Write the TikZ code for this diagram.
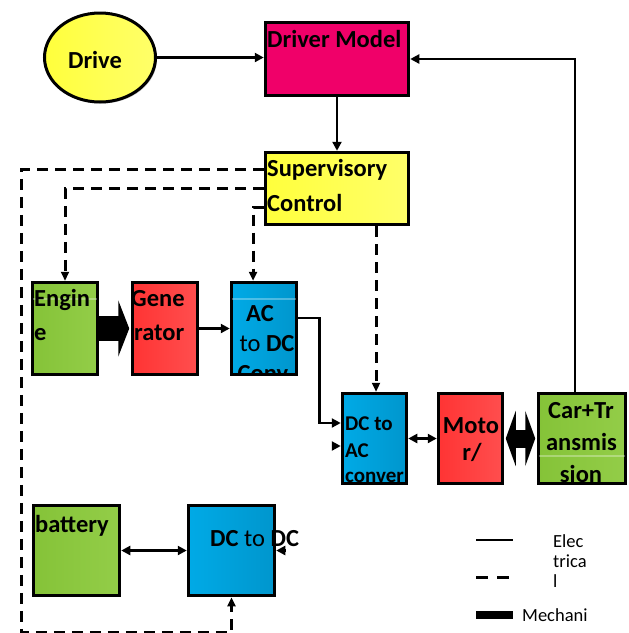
\documentclass[tikz,border=0pt]{standalone}
\usepackage{fontspec}
\setmainfont{Carlito}
\usetikzlibrary{arrows.meta,shapes.geometric,shadows,calc}
\definecolor{yelA}{RGB}{255,255,60}
\definecolor{yelB}{RGB}{255,255,105}
\definecolor{pinkA}{RGB}{240,0,105}
\definecolor{pinkB}{RGB}{222,0,92}
\definecolor{grnA}{RGB}{133,195,56}
\definecolor{grnB}{RGB}{147,205,72}
\definecolor{redA}{RGB}{255,52,52}
\definecolor{redB}{RGB}{255,78,78}
\definecolor{bluA}{RGB}{0,170,230}
\definecolor{bluB}{RGB}{0,150,205}
\begin{document}
\begin{tikzpicture}[x=1pt,y=-1pt,
  blk/.style={draw=black, line width=3.5pt, rectangle, inner sep=0pt,
    drop shadow={shadow xshift=1.5pt, shadow yshift=-1.5pt, fill=black, opacity=0.25}},
  sz/.style 2 args={minimum width=#1, minimum height=#2},
  yelbox/.style={left color=yelA, right color=yelB},
  pinkbox/.style={left color=pinkA, middle color=pinkB, right color=pinkA},
  grnbox/.style={left color=grnA, right color=grnB},
  redbox/.style={left color=redA, right color=redB},
  blubox/.style={left color=bluA, right color=bluB},
  bt/.style={font=\fontsize{24.5}{29}\selectfont\bfseries, inner sep=0pt, anchor=base west},
  btc/.style={bt, anchor=base},
  st/.style={font=\fontsize{21}{25}\selectfont\bfseries, inner sep=0pt, anchor=base west},
  lt/.style={font=\fontsize{18.5}{22}\selectfont, inner sep=0pt, anchor=base west},
  elec/.style={line width=2.6pt, -{Triangle[length=9pt,width=9pt]}},
  elecb/.style={line width=2.6pt, {Triangle[length=9pt,width=9pt]}-{Triangle[length=9pt,width=9pt]}},
  ctrl/.style={line width=3pt, dash pattern=on 11pt off 7pt, -{Triangle[length=9pt,width=8pt]}},
  mech/.style={line width=25pt, -{Triangle[length=11pt,width=56pt]}, shorten >=1.5pt},
  mechb/.style={line width=18pt, {Triangle[length=10pt,width=55pt]}-{Triangle[length=10pt,width=55pt]}, shorten >=1.5pt, shorten <=1.5pt},
  glint/.style={white, opacity=0.3, line width=1.2pt}
]
\useasboundingbox (0,0) rectangle (629,633);

% ---------- boxes ----------
\node[ellipse, draw=black, line width=3pt, minimum width=111pt, minimum height=89pt, yelbox,
  drop shadow={shadow xshift=1.5pt, shadow yshift=-1.5pt, fill=black, opacity=0.25}] (drive) at (100,57.5) {};
\node[blk, pinkbox, sz={143pt}{73pt}] (dm) at (337,59) {};
\node[blk, yelbox, sz={143pt}{72pt}] (sc) at (337,188.5) {};
\node[blk, grnbox, sz={65pt}{92pt}] (eng) at (65,328.5) {};
\node[blk, redbox, sz={65pt}{92pt}] (gen) at (165,328.5) {};
\node[blk, blubox, sz={65pt}{92pt}] (acdc) at (264,328.5) {};
\node[blk, blubox, sz={64pt}{90pt}] (dcac) at (374.5,438.5) {};
\node[blk, redbox, sz={64pt}{90pt}] (mot) at (470.5,438.5) {};
\node[blk, grnbox, sz={87pt}{90pt}] (car) at (582,438.5) {};
\node[blk, grnbox, sz={86pt}{90pt}] (bat) at (76.5,550.5) {};
\node[blk, blubox, sz={86pt}{90pt}] (dcdc) at (231.5,550.5) {};

% faint highlight lines
\draw[glint] ([xshift=1.8pt]eng.west |- 0,299) -- ([xshift=-1.8pt]eng.east |- 0,299);
\draw[glint] ([xshift=1.8pt]acdc.west |- 0,299) -- ([xshift=-1.8pt]acdc.east |- 0,299);
\draw[glint] ([xshift=1.8pt]car.west |- 0,456) -- ([xshift=-1.8pt]car.east |- 0,456);

% ---------- texts ----------
\node[btc] (tdrive) at (95,68) {Drive};
\node[bt] (tdm) at (267,47) {Driver Model};
\node[bt] (tsc1) at (267,176) {Supervisory};
\node[bt] (tsc2) at (267,211) {Control};
\node[bt] (teng1) at (34,306) {Engin};
\node[bt] (teng2) at (34,340) {e};
\begin{scope}
  \clip ([shift={(1.8pt,-1.8pt)}]gen.north west) rectangle ([shift={(-1.8pt,1.8pt)}]gen.south east);
  \node[bt] (tgen1) at (131,306) {Gene};
  \node[bt] (tgen2) at (134,340) {rator};
\end{scope}
\begin{scope}
  \clip ([shift={(1.8pt,-1.8pt)}]acdc.north west) rectangle ([shift={(-1.8pt,1.8pt)}]acdc.south east);
  \node[btc] (tac1) at (260,321) {AC};
  \node[btc] (tac2) at (267,351) {{\mdseries to} DC};
  \node[btc] (tac3) at (263,381) {Conv};
\end{scope}
\begin{scope}
  \clip ([shift={(1.8pt,-1.8pt)}]dcac.north west) rectangle ([shift={(-1.8pt,1.8pt)}]dcac.south east);
  \node[st] (tda1) at (345,430) {DC to};
  \node[st] (tda2) at (345,457) {AC};
  \node[st] (tda3) at (345,482) {conver};
\end{scope}
\node[btc] (tmot1) at (471,433) {Moto};
\node[btc] (tmot2) at (472,460) {r/};
\begin{scope}
  \clip ([shift={(1.8pt,-1.8pt)}]car.north west) rectangle ([shift={(-1.8pt,1.8pt)}]car.south east);
  \node[btc] (tcar1) at (581,418) {Car+Tr};
  \node[btc] (tcar2) at (581.5,450) {ansmis};
  \node[btc] (tcar3) at (581,482) {sion};
\end{scope}
\node[bt] (tbat) at (35,532) {battery};
\node[bt] (tdcdc) at (210,546) {DC {\mdseries to} DC};

% ---------- solid (electrical) connectors ----------
\draw[elec] (drive.east) -- (drive.east -| dm.west);
\draw[elec] (dm.south) -- (sc.north);
\coordinate (fbx) at (575,0);
\draw[elec] (car.north -| fbx) |- (dm.east);
\draw[elec] (gen.east) -- (acdc.west);
\draw[elec] ([yshift=10.5pt]acdc.east) -- ++(21,0) |- ([yshift=15.5pt]dcac.west);
\draw[elec] ([shift={(-9pt,-7.5pt)}]dcac.west) -- ([yshift=-7.5pt]dcac.west);
\draw[elecb] (dcac.east) -- (mot.west);
\draw[elecb] (bat.east) -- (dcdc.west);
\draw[elec] ([xshift=9pt]dcdc.east) -- (dcdc.east);

% ---------- dashed (control) connectors ----------
\coordinate (sA) at ($(sc.north west)!0.25!(sc.south west)$);
\coordinate (sC) at ($(sc.north west)!0.75!(sc.south west)$);
\coordinate (oc) at (21,632);
\coordinate (acin) at ($(acdc.north west)!0.34!(acdc.north east)$);
\coordinate (dax) at (376,0);
\draw[ctrl] (sA) -| (oc) -| (dcdc.south);
\draw[ctrl] (sc.west) -| (eng.north);
\draw[ctrl] (sC) -| (acin);
\draw[ctrl] (sc.south -| dax) -- (dcac.north -| dax);

% ---------- mechanical connectors ----------
\draw[mech] (eng.east) -- (gen.west);
\draw[mechb] (mot.east) -- (car.west);

% ---------- legend ----------
\coordinate (la1) at (476,540); \coordinate (la2) at (513,540);
\coordinate (lb1) at (476,577); \coordinate (lb2) at (510,577);
\coordinate (lc1) at (476,615); \coordinate (lc2) at (513,615);
\draw[line width=2.8pt] (la1) -- (la2);
\draw[line width=3pt, dash pattern=on 12pt off 9pt] (lb1) -- (lb2);
\draw[line width=8pt] (lc1) -- (lc2);
\node[lt] (tl1) at (553,547) {Elec};
\node[lt] (tl2) at (553,567) {trica};
\node[lt] (tl3) at (553,587) {l};
\node[lt] (tl4) at (522,621) {Mechani};
\end{tikzpicture}
\end{document}
